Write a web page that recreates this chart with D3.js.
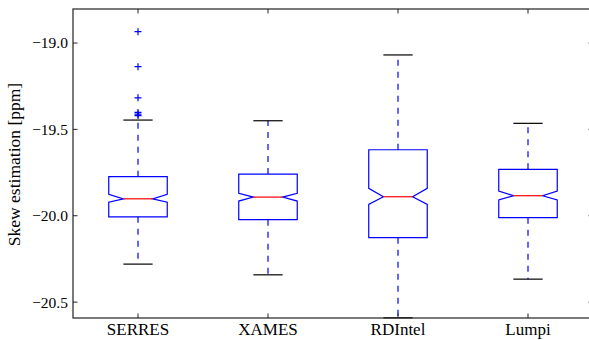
<!DOCTYPE html>
<html>
<head>
<meta charset="utf-8">
<script src="https://cdn.jsdelivr.net/npm/d3@7"></script>
<style>
  body { margin: 0; background: #fff; }
  text { font-family: "Liberation Serif", "DejaVu Serif", serif; fill: #000; }
</style>
</head>
<body>
<svg id="chart" width="589" height="340"></svg>
<script>
// box stats
var categories = ["SERRES", "XAMES", "RDIntel", "Lumpi"];
var q1 = [-20.006, -20.023, -20.127, -20.011];
var q3 = [-19.774, -19.759, -19.618, -19.731];
var medians = [-19.902, -19.892, -19.890, -19.884];
var notchLo = [-19.922, -19.915, -19.934, -19.909];
var notchHi = [-19.876, -19.870, -19.841, -19.857];
var whiskLo = [-20.280, -20.342, -20.591, -20.367];
var whiskHi = [-19.446, -19.450, -19.069, -19.465];
var fliers = [[-18.934, -19.137, -19.317, -19.402, -19.412, -19.420], [], [], []];
var yTicks = [-19.0, -19.5, -20.0, -20.5];

// note: "top" is taken by window.top, so use plot* names
var plotL = 73, plotR = 593, plotT = 9, plotB = 318;
var boxW = 0.45;

var svg = d3.select("#chart");
var x = d3.scaleLinear().domain([0.5, 4.5]).range([plotL, plotR]);
var y = d3.scaleLinear().domain([-20.592, -18.803]).range([plotB, plotT]);

var data = categories.map(function(c, i) {
  return { name: c, pos: i + 1, q1: q1[i], q3: q3[i], med: medians[i],
    nlo: notchLo[i], nhi: notchHi[i], wlo: whiskLo[i], whi: whiskHi[i], fliers: fliers[i] };
});

var plot = svg.append("g");

data.forEach(function(d) {
  var x0 = x(d.pos - boxW / 2), x1 = x(d.pos + boxW / 2);
  var c0 = x(d.pos - boxW / 4), c1 = x(d.pos + boxW / 4);
  var xc = x(d.pos);

  // whiskers, dashed from the box outwards
  [[d.q3, d.whi], [d.q1, d.wlo]].forEach(function(w) {
    plot.append("line")
      .attr("x1", xc).attr("x2", xc)
      .attr("y1", y(w[0])).attr("y2", y(w[1]))
      .attr("stroke", "#0000ff").attr("stroke-width", 1.2)
      .attr("stroke-dasharray", "6,6");
  });

  // caps
  [d.whi, d.wlo].forEach(function(v) {
    plot.append("line")
      .attr("x1", c0).attr("x2", c1)
      .attr("y1", y(v)).attr("y2", y(v))
      .attr("stroke", "#000").attr("stroke-width", 1.2);
  });

  // notched box
  var pts = [
    [x0, y(d.q1)], [x0, y(d.nlo)], [c0, y(d.med)], [x0, y(d.nhi)], [x0, y(d.q3)],
    [x1, y(d.q3)], [x1, y(d.nhi)], [c1, y(d.med)], [x1, y(d.nlo)], [x1, y(d.q1)]
  ];
  plot.append("path")
    .attr("d", d3.line()(pts) + "Z")
    .attr("fill", "none")
    .attr("stroke", "#0000ff").attr("stroke-width", 1.2);

  // median
  plot.append("line")
    .attr("x1", c0).attr("x2", c1)
    .attr("y1", y(d.med)).attr("y2", y(d.med))
    .attr("stroke", "#ff0000").attr("stroke-width", 1.2);

  // outliers as "+"
  d.fliers.forEach(function(v) {
    plot.append("path")
      .attr("d", "M" + (xc - 3.5) + "," + y(v) + "h7M" + xc + "," + (y(v) - 3.5) + "v7")
      .attr("stroke", "#0000ff").attr("stroke-width", 1.2);
  });
});

// frame
svg.append("rect")
  .attr("x", plotL).attr("y", plotT)
  .attr("width", plotR - plotL).attr("height", plotB - plotT)
  .attr("fill", "none").attr("stroke", "#222").attr("stroke-width", 1.2);

// inward ticks on all sides
var tickLen = 4.5;
yTicks.forEach(function(t) {
  svg.append("line").attr("x1", plotL).attr("x2", plotL + tickLen)
    .attr("y1", y(t)).attr("y2", y(t)).attr("stroke", "#222");
  svg.append("line").attr("x1", plotR).attr("x2", plotR - tickLen)
    .attr("y1", y(t)).attr("y2", y(t)).attr("stroke", "#222");
  svg.append("text")
    .attr("x", plotL - 5).attr("y", y(t))
    .attr("dy", "0.35em")
    .attr("text-anchor", "end")
    .style("font-size", "15.5px")
    .text(d3.format(".1f")(t).replace("-", "\u2212"));
});

data.forEach(function(d) {
  svg.append("line").attr("x1", x(d.pos)).attr("x2", x(d.pos))
    .attr("y1", plotB).attr("y2", plotB - tickLen).attr("stroke", "#222");
  svg.append("line").attr("x1", x(d.pos)).attr("x2", x(d.pos))
    .attr("y1", plotT).attr("y2", plotT + tickLen).attr("stroke", "#222");
  svg.append("text")
    .attr("x", x(d.pos)).attr("y", 335)
    .attr("text-anchor", "middle")
    .style("font-size", "17px")
    .text(d.name);
});

svg.append("text")
  .attr("transform", "translate(20," + ((plotT + plotB) / 2 + 1) + ") rotate(-90)")
  .attr("text-anchor", "middle")
  .style("font-size", "17.5px")
  .text("Skew estimation [ppm]");
</script>
</body>
</html>
